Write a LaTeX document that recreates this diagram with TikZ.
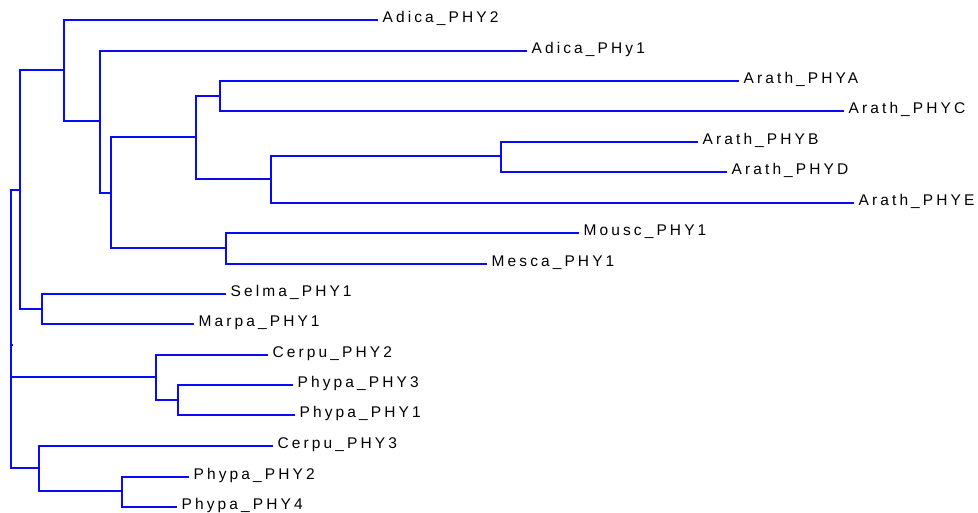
\documentclass[tikz,border=0pt]{standalone}
\usepackage{fontspec}
\newfontfamily\taxonfont[LetterSpace=20]{Liberation Sans}
\usetikzlibrary{positioning}
\definecolor{treeblue}{RGB}{10,10,250}
\tikzset{
  font={\taxonfont\fontsize{15.5pt}{16pt}\selectfont}}
\tikzset{
  branch/.style={draw=treeblue, line width=1.5pt},
  rootline/.style={draw=treeblue, line width=1.2pt},
  taxon/.style={inner sep=0pt, anchor=base west, xshift=4.5pt, yshift=-2.5pt}}

\begin{document}
\begin{tikzpicture}[x=1pt,y=-1pt]
\useasboundingbox (0,0) rectangle (978,513);
% inner nodes
\coordinate (root) at (11,345);
\coordinate (nA) at (20,190);
\coordinate (nB) at (64,70);
\coordinate (nC) at (100,121);
\coordinate (nD) at (111,193);
\coordinate (nE) at (196,137);
\coordinate (nF) at (220,96);
\coordinate (nG) at (271,179);
\coordinate (nH) at (501,156);
\coordinate (nI) at (226,248);
\coordinate (nJ) at (42,309);
\coordinate (nK) at (156,377);
\coordinate (nL) at (178,400);
\coordinate (nM) at (39,468);
\coordinate (nN) at (122,491);
% leaf tips
\coordinate (adica2) at (378,20);
\coordinate (adica1) at (527,51);
\coordinate (phyA) at (739,81);
\coordinate (phyC) at (844,111);
\coordinate (phyB) at (698,142);
\coordinate (phyD) at (727,172);
\coordinate (phyE) at (854,203);
\coordinate (mousc) at (579,233);
\coordinate (mesca) at (487,264);
\coordinate (selma) at (226,294);
\coordinate (marpa) at (194,324);
\coordinate (cerpu2) at (268,355);
\coordinate (phypa3) at (293,385);
\coordinate (phypa1) at (295,415);
\coordinate (cerpu3) at (273,446);
\coordinate (phypa2) at (189,477);
\coordinate (phypa4) at (177,507);
% labels
\node [taxon] (adica2 label) at (adica2) {Adica\_PHY2};
\node [taxon] (adica1 label) at (adica1) {Adica\_PHy1};
\node [taxon] (phyA label) at (phyA) {Arath\_PHYA};
\node [taxon] (phyC label) at (phyC) {Arath\_PHYC};
\node [taxon] (phyB label) at (phyB) {Arath\_PHYB};
\node [taxon] (phyD label) at (phyD) {Arath\_PHYD};
\node [taxon] (phyE label) at (phyE) {Arath\_PHYE};
\node [taxon] (mousc label) at (mousc) {Mousc\_PHY1};
\node [taxon] (mesca label) at (mesca) {Mesca\_PHY1};
\node [taxon] (selma label) at (selma) {Selma\_PHY1};
\node [taxon] (marpa label) at (marpa) {Marpa\_PHY1};
\node [taxon] (cerpu2 label) at (cerpu2) {Cerpu\_PHY2};
\node [taxon] (phypa3 label) at (phypa3) {Phypa\_PHY3};
\node [taxon] (phypa1 label) at (phypa1) {Phypa\_PHY1};
\node [taxon] (cerpu3 label) at (cerpu3) {Cerpu\_PHY3};
\node [taxon] (phypa2 label) at (phypa2) {Phypa\_PHY2};
\node [taxon] (phypa4 label) at (phypa4) {Phypa\_PHY4};
% branches
\draw [rootline] (root) |- (nA);
\draw [rootline] (root) |- (nK);
\draw [rootline] (root) |- (nM);
\draw [rootline] (root) -- ++(1.5,0);
\draw [branch] (nA) |- (nB);
\draw [branch] (nA) |- (nJ);
\draw [branch] (nB) |- (adica2);
\draw [branch] (nB) |- (nC);
\draw [branch] (nC) |- (adica1);
\draw [branch] (nC) |- (nD);
\draw [branch] (nD) |- (nE);
\draw [branch] (nD) |- (nI);
\draw [branch] (nE) |- (nF);
\draw [branch] (nE) |- (nG);
\draw [branch] (nF) |- (phyA);
\draw [branch] (nF) |- (phyC);
\draw [branch] (nG) |- (nH);
\draw [branch] (nG) |- (phyE);
\draw [branch] (nH) |- (phyB);
\draw [branch] (nH) |- (phyD);
\draw [branch] (nI) |- (mousc);
\draw [branch] (nI) |- (mesca);
\draw [branch] (nJ) |- (selma);
\draw [branch] (nJ) |- (marpa);
\draw [branch] (nK) |- (cerpu2);
\draw [branch] (nK) |- (nL);
\draw [branch] (nL) |- (phypa3);
\draw [branch] (nL) |- (phypa1);
\draw [branch] (nM) |- (cerpu3);
\draw [branch] (nM) |- (nN);
\draw [branch] (nN) |- (phypa2);
\draw [branch] (nN) |- (phypa4);
\end{tikzpicture}
\end{document}
